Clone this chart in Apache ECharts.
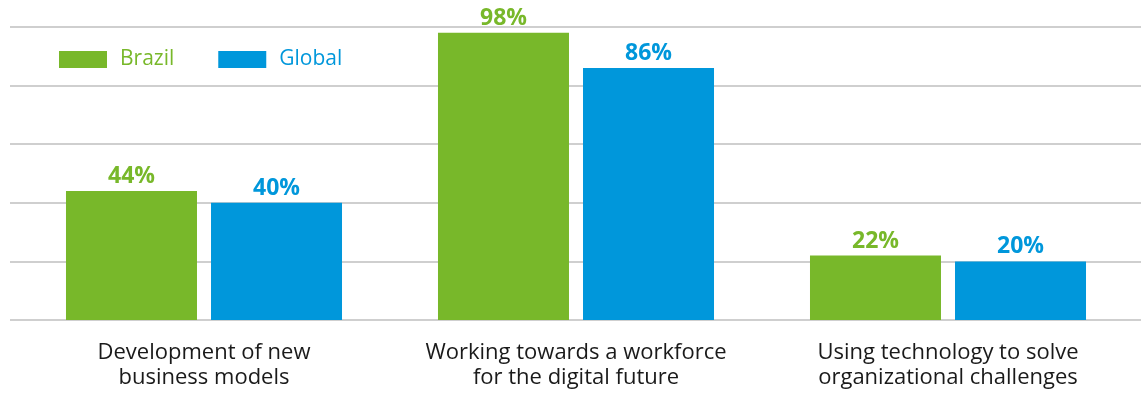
<!DOCTYPE html>
<html>
<head>
<meta charset="utf-8">
<script src="https://cdn.jsdelivr.net/npm/echarts@6/dist/echarts.min.js"></script>
<style>
  html, body { margin: 0; padding: 0; background: #fff; }
  #chart { width: 1141px; height: 394px; }
</style>
</head>
<body>
<div id="chart"></div>
<script>
const categories = [
  "Development of new\nbusiness models",
  "Working towards a workforce\nfor the digital future",
  "Using technology to solve\norganizational challenges"
];
const brazil = [44, 98, 22];
const global = [40, 86, 20];
const yTicks = [0, 20, 40, 60, 80, 100];

const GREEN = "#78b82a";
const BLUE = "#0097db";
const FONT = "Open Sans";

const chart = echarts.init(document.getElementById("chart"));

chart.setOption({
  animation: false,
  textStyle: { fontFamily: FONT },
  legend: {
    left: 59,
    top: 49,
    padding: 0,
    itemWidth: 48,
    itemHeight: 17,
    itemGap: 44,
    icon: "rect",
    data: [
      { name: "Brazil", textStyle: { color: GREEN } },
      { name: "Global", textStyle: { color: BLUE } }
    ],
    textStyle: { fontSize: 21, fontFamily: FONT, padding: [0, 0, 0, 8] }
  },
  grid: [
    // gridlines grid, spans full width
    { left: 10, right: 0, top: 27, bottom: 74, containLabel: false },
    // bars grid
    { left: 18, width: 1116, top: 27, bottom: 74, containLabel: false }
  ],
  xAxis: [
    { gridIndex: 0, type: "value", show: false, min: 0, max: 1 },
    {
      gridIndex: 1,
      type: "category",
      data: categories,
      axisLine: { show: false },
      axisTick: { show: false },
      axisLabel: {
        interval: 0,
        color: "#1a1a1a",
        fontSize: 22,
        lineHeight: 25,
        margin: 20,
        fontFamily: FONT
      }
    }
  ],
  yAxis: [
    {
      gridIndex: 0,
      type: "value",
      min: yTicks[0],
      max: yTicks[yTicks.length - 1],
      interval: yTicks[1] - yTicks[0],
      axisLine: { show: false },
      axisTick: { show: false },
      axisLabel: { show: false },
      splitLine: { lineStyle: { color: "#cfcfcf", width: 2 } }
    },
    {
      gridIndex: 1,
      type: "value",
      min: yTicks[0],
      max: yTicks[yTicks.length - 1],
      show: false
    }
  ],
  series: [
    {
      name: "Brazil",
      type: "bar",
      xAxisIndex: 1,
      yAxisIndex: 1,
      data: brazil,
      barWidth: 131,
      barGap: "10.7%",
      itemStyle: { color: GREEN },
      label: {
        show: true,
        position: "top",
        distance: 3,
        formatter: "{c}%",
        color: GREEN,
        fontSize: 23,
        fontWeight: "bold",
        fontFamily: FONT
      }
    },
    {
      name: "Global",
      type: "bar",
      xAxisIndex: 1,
      yAxisIndex: 1,
      data: global,
      barWidth: 131,
      barGap: "10.7%",
      itemStyle: { color: BLUE },
      label: {
        show: true,
        position: "top",
        distance: 3,
        formatter: "{c}%",
        color: BLUE,
        fontSize: 23,
        fontWeight: "bold",
        fontFamily: FONT
      }
    }
  ]
});
</script>
</body>
</html>
